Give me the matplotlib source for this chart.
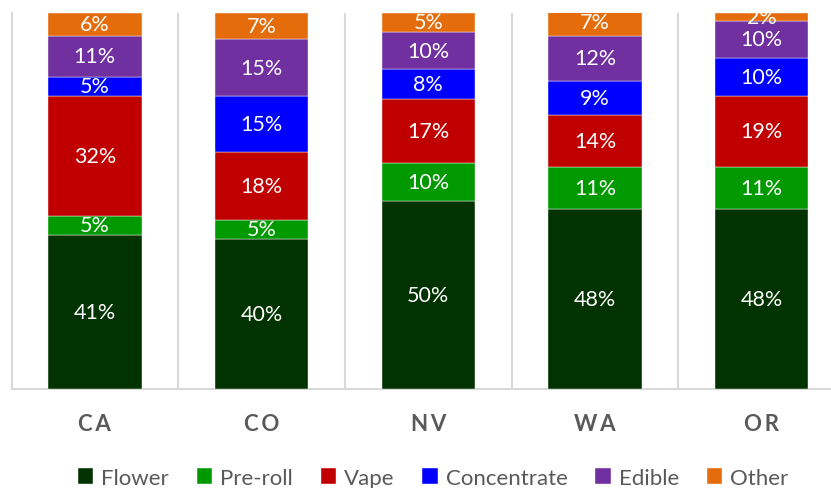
import matplotlib.pyplot as plt
import numpy as np

plt.rcParams['font.family'] = ['Lato', 'DejaVu Sans']

states = ['CA', 'CO', 'NV', 'WA', 'OR']
categories = ['Flower', 'Pre-roll', 'Vape', 'Concentrate', 'Edible', 'Other']
flower = [41, 40, 50, 48, 48]
preroll = [5, 5, 10, 11, 11]
vape = [32, 18, 17, 14, 19]
concentrate = [5, 15, 8, 9, 10]
edible = [11, 15, 10, 12, 10]
other = [6, 7, 5, 7, 2]

series = [flower, preroll, vape, concentrate, edible, other]
colors = ['#003300', '#009900', '#C00000', '#0000FF', '#7030A0', '#E46C0A']

fig = plt.figure(figsize=(8.31, 4.89), dpi=100)
ax = fig.add_axes([11.5 / 831, 99 / 489, 833.5 / 831, 376 / 489])

x = np.arange(len(states))
bottom = np.zeros(len(states))
for vals, color, label in zip(series, colors, categories):
    vals = np.array(vals)
    ax.bar(x, vals, bottom=bottom, width=0.56, color=color, label=label,
           edgecolor='white', linewidth=0.3, zorder=3)
    for xi, b, v in zip(x, bottom, vals):
        ax.text(xi, b + v / 2, f'{v}%', ha='center', va='center',
                color='white', fontsize=15.5, zorder=4)
    bottom += vals

ax.set_xlim(-0.5, 4.5)
ax.set_ylim(0, 100)

# separators between categories
for sep in np.arange(0.5, 4.5, 1):
    ax.axvline(sep, color='#d9d9d9', linewidth=1.5, zorder=1)

for s in ['top', 'right']:
    ax.spines[s].set_visible(False)
ax.spines['left'].set_color('#d9d9d9')
ax.spines['left'].set_linewidth(1.5)
ax.spines['bottom'].set_color('#d9d9d9')
ax.spines['bottom'].set_linewidth(1.5)

ax.set_yticks([])
ax.set_xticks(x)
ax.set_xticklabels(['\u2009'.join(s) for s in states], fontsize=16,
                   fontweight='bold', color='#595959')
ax.tick_params(axis='x', length=0, pad=17)

leg = fig.legend(loc='center', bbox_to_anchor=(433 / 831, 1 - 479 / 489),
                 ncol=6, frameon=False, fontsize=16, handlelength=0.7,
                 handleheight=0.7, handletextpad=0.35, columnspacing=1.25)
for t in leg.get_texts():
    t.set_color('#595959')

fig.savefig('out.png', dpi=100)
